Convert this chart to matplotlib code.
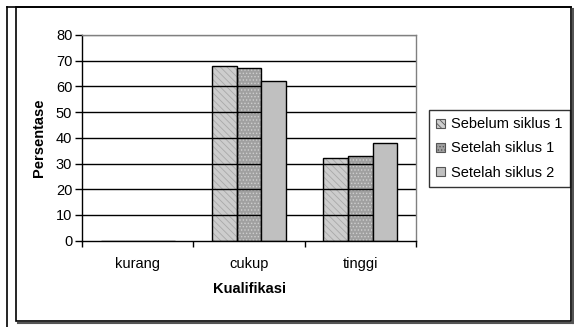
import matplotlib
matplotlib.use("Agg")
import matplotlib.pyplot as plt
import numpy as np
from matplotlib.patches import Rectangle, Patch
from matplotlib.lines import Line2D

plt.rcParams['font.family'] = ['Liberation Sans', 'DejaVu Sans']
plt.rcParams['hatch.linewidth'] = 0.6

categories = ["kurang", "cukup", "tinggi"]
series_names = ["Sebelum siklus 1", "Setelah siklus 1", "Setelah siklus 2"]
sebelum_siklus_1 = [0, 68, 32]
setelah_siklus_1 = [0, 67, 33]
setelah_siklus_2 = [0, 62, 38]
yticks = [0, 10, 20, 30, 40, 50, 60, 70, 80]

W, H = 574, 327
fig = plt.figure(figsize=(W / 100, H / 100), dpi=100)

# outer frame of the chart object
fig.add_artist(Line2D([7 / W, 7 / W], [0, 1 - 7 / H], transform=fig.transFigure, color='black', lw=1.2))
fig.add_artist(Line2D([7 / W, 571 / W], [1 - 7 / H, 1 - 7 / H], transform=fig.transFigure, color='black', lw=1.2))
fig.add_artist(Rectangle((16 / W, 1 - 321 / H), (571 - 16) / W, (321 - 7) / H,
                         transform=fig.transFigure, fill=False, edgecolor='black', lw=1.2))
fig.add_artist(Line2D([572.5 / W, 572.5 / W], [1 - 323 / H, 1 - 9 / H], transform=fig.transFigure, color='#555555', lw=1.5))
fig.add_artist(Line2D([18 / W, 572.5 / W], [1 - 322.5 / H, 1 - 322.5 / H], transform=fig.transFigure, color='#555555', lw=1.5))

ax = fig.add_axes([82 / W, 1 - 240.7 / H, 334 / W, 205.7 / H])

x = np.arange(len(categories))
bw = 0.222
offsets = [-bw, 0, bw]

# gridlines sit above the patterned bars but below the solid one
for yv in yticks[1:]:
    ax.axhline(yv, color='black' if yv < 80 else '#808080', lw=1.0, zorder=2)

# first series: light gray with fine diagonal stripes
ax.bar(x + offsets[0], sebelum_siklus_1, bw, color='#cdcdcd', edgecolor='#a8a8a8',
       hatch='\\\\\\\\\\', lw=0, zorder=1)
ax.bar(x + offsets[0], sebelum_siklus_1, bw, fill=False, edgecolor='black', lw=1.0, zorder=2.5)
# second series: darker gray with speckles
ax.bar(x + offsets[1], setelah_siklus_1, bw, color='#a0a0a0', edgecolor='#cfcfcf',
       hatch='.....', lw=0, zorder=1)
ax.bar(x + offsets[1], setelah_siklus_1, bw, fill=False, edgecolor='black', lw=1.0, zorder=2.5)
# third series: solid gray
ax.bar(x + offsets[2], setelah_siklus_2, bw, color='#c0c0c0', edgecolor='black', lw=1.0, zorder=3)

ax.set_xlim(-0.5, 2.5)
ax.set_ylim(0, 80)
ax.set_yticks(yticks)
ax.set_yticklabels([str(v) for v in yticks], fontsize=10.5)
ax.set_xticks(x)
ax.set_xticklabels(categories, fontsize=10.5)
ax.tick_params(axis='x', length=0, pad=12)
ax.set_xticks([-0.5, 0.5, 1.5, 2.5], minor=True)
ax.tick_params(axis='x', which='minor', length=4, width=1, color='black')
ax.tick_params(axis='y', length=5, width=1, color='black', pad=2)

ax.spines['left'].set_color('black')
ax.spines['bottom'].set_color('black')
ax.spines['top'].set_color('#808080')
ax.spines['right'].set_color('#808080')
for s in ax.spines.values():
    s.set_linewidth(1.0)
    s.set_zorder(4)

ax.set_ylabel("Persentase", fontsize=10.5, fontweight='bold', labelpad=7)
ax.set_xlabel("Kualifikasi", fontsize=10.5, fontweight='bold', labelpad=8)

handles = [
    Patch(facecolor='#cdcdcd', edgecolor='#555555', hatch='\\\\\\\\\\', lw=0.8),
    Patch(facecolor='#a0a0a0', edgecolor='#555555', hatch='.....', lw=0.8),
    Patch(facecolor='#c0c0c0', edgecolor='#555555', lw=0.8),
]
leg = fig.legend(handles, series_names, loc='upper left',
                 bbox_to_anchor=(429 / W, 1 - 110 / H), fontsize=10.5,
                 frameon=True, fancybox=False, edgecolor='black',
                 handlelength=0.6, handleheight=0.6, handletextpad=0.4,
                 labelspacing=0.7, borderpad=0.5, borderaxespad=0)
leg.get_frame().set_linewidth(1.0)

fig.savefig("out.png", dpi=100)
